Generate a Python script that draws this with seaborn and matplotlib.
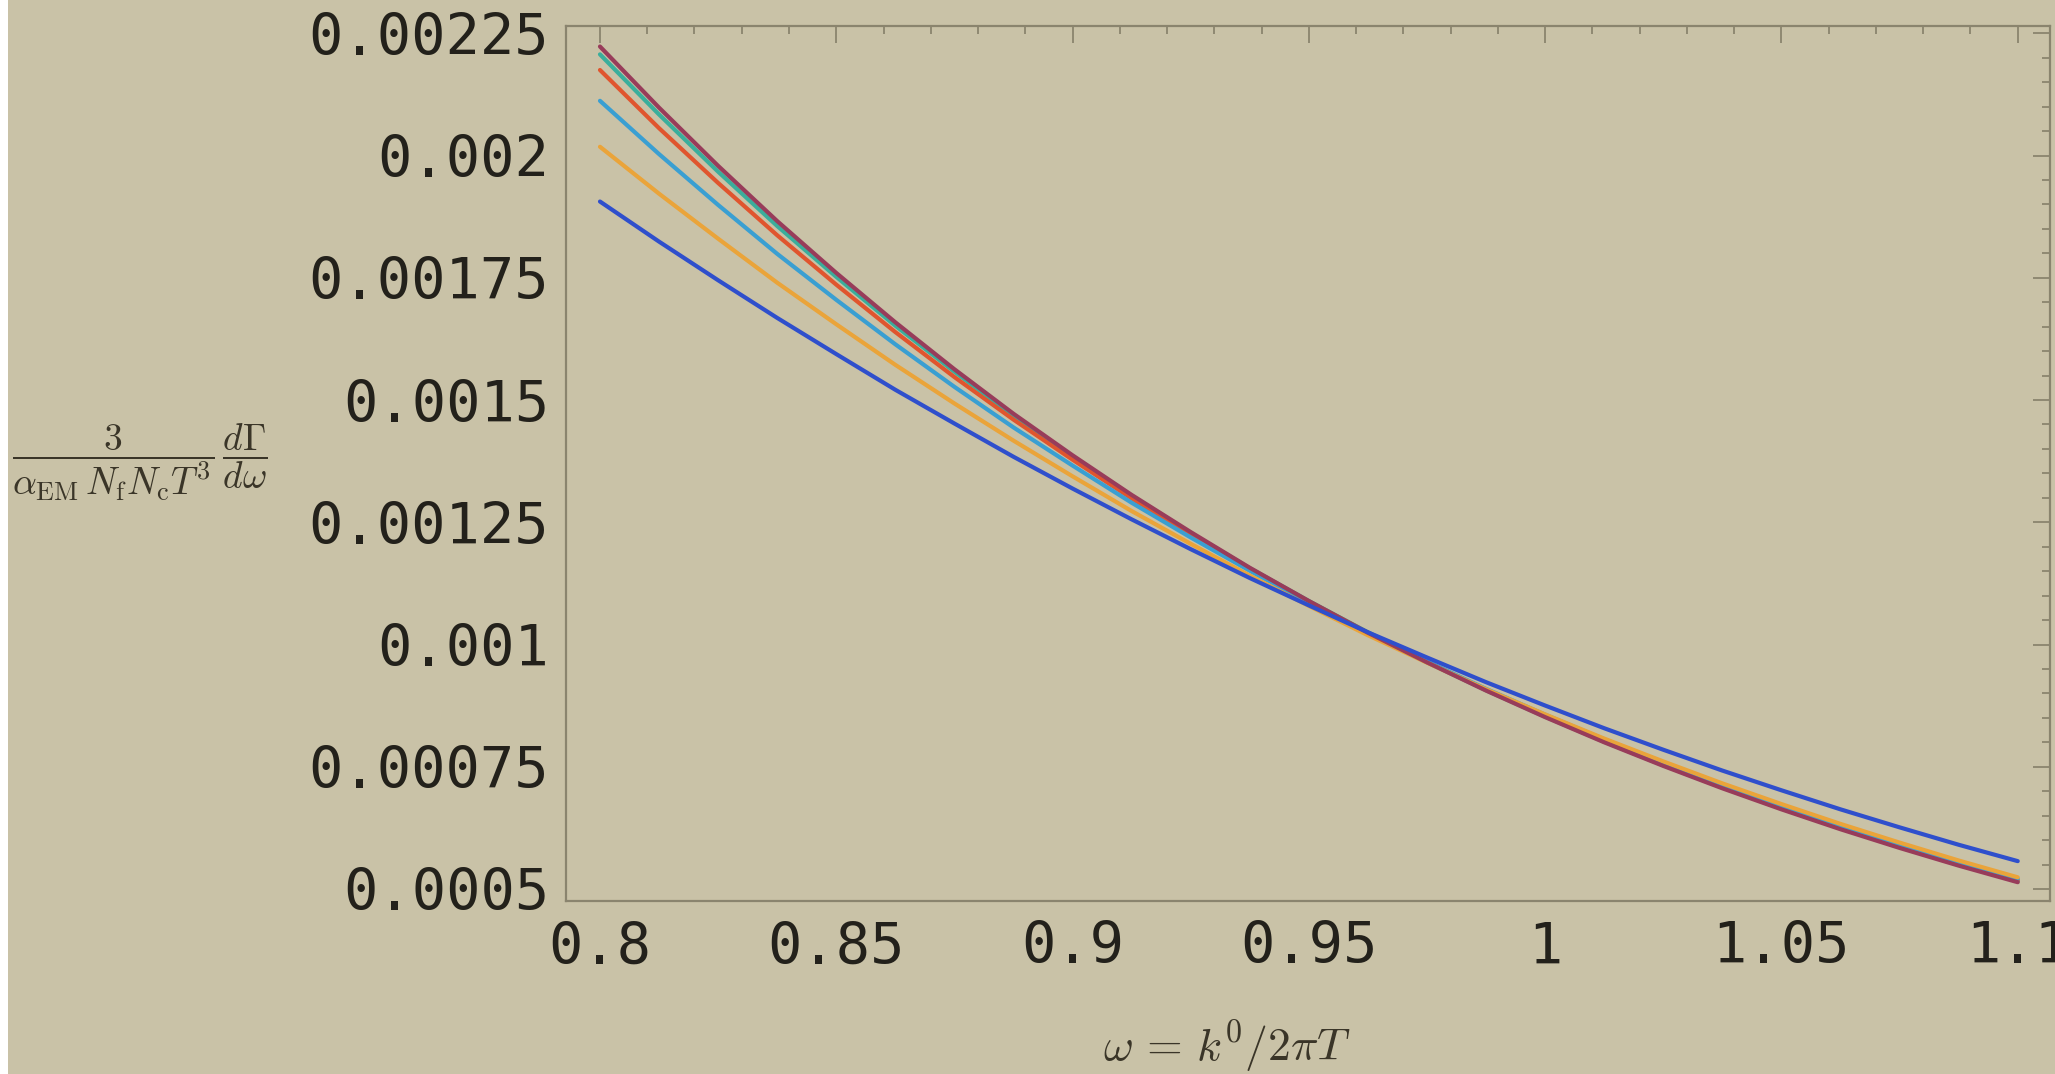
import matplotlib
matplotlib.use("Agg")
import pandas as pd
import matplotlib.pyplot as plt
import seaborn as sns
from matplotlib.ticker import AutoMinorLocator
from matplotlib.patches import Rectangle

# photon emission rate vs. omega = k0 / (2 pi T), six parameter sets
omega = [0.8, 0.8125, 0.825, 0.8375, 0.85, 0.8625, 0.875, 0.8875, 0.9, 0.9125,
         0.925, 0.9375, 0.95, 0.9625, 0.975, 0.9875, 1.0, 1.0125, 1.025, 1.0375,
         1.05, 1.0625, 1.075, 1.0875, 1.1]

rate_maroon = [0.002223, 0.002098, 0.001979, 0.001866, 0.001760, 0.001659, 0.001563,
               0.001472, 0.001387, 0.001306, 0.001230, 0.001157, 0.001089, 0.001024,
               0.0009635, 0.0009058, 0.0008515, 0.0008000, 0.0007517, 0.0007059,
               0.0006629, 0.0006222, 0.0005840, 0.0005478, 0.0005139]
rate_teal = [0.002207, 0.002084, 0.001967, 0.001856, 0.001752, 0.001652, 0.001558,
             0.001468, 0.001384, 0.001304, 0.001228, 0.001156, 0.001089, 0.001025,
             0.0009638, 0.0009064, 0.0008524, 0.0008012, 0.0007531, 0.0007075,
             0.0006646, 0.0006240, 0.0005859, 0.0005498, 0.0005159]
rate_red = [0.002175, 0.002056, 0.001944, 0.001837, 0.001736, 0.001639, 0.001547,
            0.001460, 0.001378, 0.001299, 0.001225, 0.001155, 0.001088, 0.001024,
            0.0009643, 0.0009074, 0.0008539, 0.0008030, 0.0007551, 0.0007096,
            0.0006668, 0.0006262, 0.0005881, 0.0005519, 0.0005180]
rate_sky = [0.002112, 0.002003, 0.001899, 0.001799, 0.001705, 0.001614, 0.001527,
            0.001444, 0.001366, 0.001290, 0.001219, 0.001151, 0.001086, 0.001024,
            0.0009653, 0.0009093, 0.0008565, 0.0008061, 0.0007586, 0.0007132,
            0.0006705, 0.0006298, 0.0005915, 0.0005551, 0.0005209]
rate_orange = [0.002018, 0.001922, 0.001830, 0.001740, 0.001655, 0.001572, 0.001493,
               0.001417, 0.001344, 0.001273, 0.001206, 0.001141, 0.001079, 0.001019,
               0.0009629, 0.0009085, 0.0008571, 0.0008076, 0.0007609, 0.0007160,
               0.0006737, 0.0006331, 0.0005949, 0.0005583, 0.0005239]
rate_blue = [0.001906, 0.001824, 0.001745, 0.001668, 0.001594, 0.001521, 0.001452,
             0.001384, 0.001319, 0.001256, 0.001195, 0.001136, 0.001080, 0.001025,
             0.0009735, 0.0009230, 0.0008752, 0.0008288, 0.0007848, 0.0007422,
             0.0007019, 0.0006629, 0.0006261, 0.0005905, 0.0005570]

series_names = ["teal", "red", "sky", "orange", "maroon", "blue"]
series_values = [rate_teal, rate_red, rate_sky, rate_orange, rate_maroon, rate_blue]
series_colors = ["#3aae9c", "#e0552e", "#3a9fd2", "#eaa43a", "#983c5a", "#2f4fcc"]

xtick_values = [0.8, 0.85, 0.9, 0.95, 1.0, 1.05, 1.1]
xtick_labels = ["0.8", "0.85", "0.9", "0.95", "1", "1.05", "1.1"]
ytick_values = [0.0005, 0.00075, 0.001, 0.00125, 0.0015, 0.00175, 0.002, 0.00225]
ytick_labels = ["0.0005", "0.00075", "0.001", "0.00125", "0.0015", "0.00175", "0.002", "0.00225"]

BG = "#c9c2a7"
FRAME = "#8a846e"
TEXT = "#23211b"

rows = []
for name, vals in zip(series_names, series_values):
    for w, r in zip(omega, vals):
        rows.append({"omega": w, "rate": r, "curve": name})
df = pd.DataFrame(rows)

sns.set_theme(style="white")
plt.rcParams["mathtext.fontset"] = "cm"

fig = plt.figure(figsize=(20.55, 10.74), dpi=100, facecolor=BG)
ax = fig.add_axes([0.2754, 0.1611, 0.7221, 0.8147])
ax.set_facecolor(BG)

sns.lineplot(data=df, x="omega", y="rate", hue="curve", hue_order=series_names,
             palette=dict(zip(series_names, series_colors)), linewidth=3.0,
             legend=False, ax=ax, sort=True, estimator=None)

ax.set_xlim(0.7928, 1.1068)
ax.set_ylim(0.0004755, 0.002265)

ax.set_xticks(xtick_values)
ax.set_xticklabels(xtick_labels)
ax.set_yticks(ytick_values)
ax.set_yticklabels(ytick_labels)
ax.xaxis.set_minor_locator(AutoMinorLocator(5))
ax.yaxis.set_minor_locator(AutoMinorLocator(5))

ax.tick_params(which="both", direction="in", top=True, right=True, color=FRAME, width=1.3)
ax.tick_params(which="major", length=12)
ax.tick_params(which="minor", length=6)
ax.tick_params(axis="x", which="major", pad=14, labelsize=41, labelcolor=TEXT)
ax.tick_params(axis="y", which="major", pad=12, labelsize=41, labelcolor=TEXT)
for lab in ax.get_xticklabels() + ax.get_yticklabels():
    lab.set_fontfamily("DejaVu Sans Mono")

for sp in ax.spines.values():
    sp.set_color(FRAME)
    sp.set_linewidth(1.6)

ax.set_xlabel("")
ax.set_ylabel("")

fig.text(0.597, 0.025, r"$\omega\,=\,k^0/2\pi T$", fontsize=33, color="#3a3528",
         ha="center", va="center")
fig.text(0.068, 0.570,
         r"$\dfrac{3}{\alpha_{\rm EM}\, N_{\rm f} N_{\rm c} T^3}\,\dfrac{d\Gamma}{d\omega}$",
         fontsize=27, color="#3a3528", ha="center", va="center")

fig.patches.append(Rectangle((0, 0), 8 / 2055, 1, transform=fig.transFigure,
                             facecolor="white", edgecolor="none", zorder=10))

fig.savefig("out.png", dpi=100, facecolor=BG)
